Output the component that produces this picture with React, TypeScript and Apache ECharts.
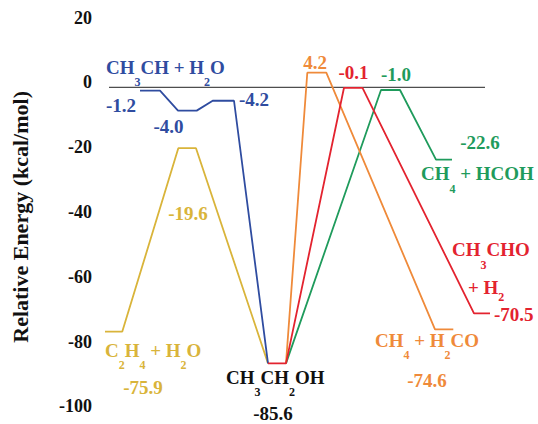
import React, { useEffect, useRef } from "react";
import * as echarts from "echarts";

// y axis (kcal/mol)
const yMin = -100;
const yMax = 20;
const yStep = 20;

// reaction-coordinate positions and energies
const zeroLine: [number, number][] = [[13, 0], [389, 0]];
const yellowPath: [number, number][] = [[9, -75.4], [26.3, -75.4], [82.3, -18.8], [100, -18.8], [172, -85.2]];
const bluePath: [number, number][] = [[44, -1.05], [64, -1.05], [82, -7.2], [100.7, -7.2], [116.7, -4.15], [138, -4.15], [172, -85.2]];
const greenPath: [number, number][] = [[190, -85.2], [285, -0.83], [304, -0.83], [340, -22.3], [356, -22.3]];
const orangePath: [number, number][] = [[190, -85.2], [211.3, 4.5], [230.3, 4.5], [339, -74.7], [357.3, -74.7]];
const redPath: [number, number][] = [[172, -85.2], [190, -85.2], [248, -0.15], [266.5, -0.15], [378, -69.75], [394, -69.75]];

// annotation texts ("_n" = subscript)
const labelTexts = [
  "CH_3CH + H_2O", "-1.2", "-4.0", "-4.2",
  "4.2", "-0.1", "-1.0", "-22.6", "CH_4 + HCOH",
  "-19.6", "C_2H_4 + H_2O", "-75.9",
  "CH_3CH_2OH", "-85.6",
  "CH_3CHO", "+ H_2", "-70.5",
  "CH_4 + H_2CO", "-74.6",
];

const BLUE = "#2f4ca0";
const YELLOW = "#d9b43a";
const ORANGE = "#ef8a3a";
const RED = "#e3232f";
const GREEN = "#1f9b5c";
const BLACK = "#111111";

// layout of the annotations: [x, main text centre y, align, colour, subscript drop]
const labelLayout: [number, number, "left" | "center", string, number][] = [
  [106, 67, "left", BLUE, 15],
  [106, 105, "left", BLUE, 15],
  [168.5, 126, "center", BLUE, 15],
  [239, 99, "left", BLUE, 15],
  [315, 62, "center", ORANGE, 15],
  [353.5, 72, "center", RED, 15],
  [396, 74, "center", GREEN, 15],
  [480, 142, "center", GREEN, 15],
  [421, 173, "left", GREEN, 16],
  [188, 213, "center", YELLOW, 15],
  [105, 350, "left", YELLOW, 15],
  [143, 387, "center", YELLOW, 15],
  [226, 377, "left", BLACK, 15],
  [273, 413, "center", BLACK, 15],
  [452, 249, "left", RED, 16],
  [468, 287, "left", RED, 10],
  [494, 314, "left", RED, 15],
  [375, 340, "left", ORANGE, 15],
  [427, 380, "center", ORANGE, 15],
];

const FONT = "'Liberation Serif', 'Times New Roman', serif";
const MAIN_SIZE = 19;
const SUB_SIZE = 12;

function segments(s: string): [string, boolean][] {
  const out: [string, boolean][] = [];
  const re = /_(\d)/g;
  let last = 0;
  let m: RegExpExecArray | null;
  while ((m = re.exec(s))) {
    if (m.index > last) out.push([s.slice(last, m.index), false]);
    out.push([m[1], true]);
    last = m.index + m[0].length;
  }
  if (last < s.length) out.push([s.slice(last), false]);
  return out;
}

export default function App() {
  const ref = useRef<HTMLDivElement>(null);
  useEffect(() => {
    if (!ref.current) return;
    const chart = echarts.init(ref.current, undefined, { renderer: "svg" });
    const ctx = document.createElement("canvas").getContext("2d")!;
    const measure = (t: string, size: number) => {
      ctx.font = `bold ${size}px ${FONT}`;
      return ctx.measureText(t).width;
    };
    const line = (data: [number, number][], color: string, width = 1.8) => ({
      type: "line",
      data,
      symbol: "none",
      silent: true,
      lineStyle: { color, width },
      z: 2,
    });
    const graphics: any[] = [];
    labelTexts.forEach((t, i) => {
      const [x, cy, align, color, drop] = labelLayout[i];
      const segs = segments(t);
      const widths = segs.map(([txt, sub]) => measure(txt, sub ? SUB_SIZE : MAIN_SIZE));
      const total = widths.reduce((a, b) => a + b, 0);
      let cx = align === "center" ? x - total / 2 : x;
      segs.forEach(([txt, sub], j) => {
        graphics.push({
          type: "text",
          x: cx,
          y: sub ? cy + drop : cy,
          z: 10,
          style: {
            text: txt,
            align: "left",
            verticalAlign: "middle",
            fill: color,
            fontFamily: FONT,
            fontWeight: "bold",
            fontSize: sub ? SUB_SIZE : MAIN_SIZE,
          },
        });
        cx += widths[j];
      });
    });
    chart.setOption({
      animation: false,
      grid: { left: 96, right: 0, top: 22.5, bottom: 12.7 },
      xAxis: { type: "value", min: 0, max: 442, show: false },
      yAxis: {
        type: "value",
        min: yMin,
        max: yMax,
        interval: yStep,
        axisLine: { show: false },
        axisTick: { show: false },
        splitLine: { show: false },
        axisLabel: {
          margin: 4,
          color: BLACK,
          fontFamily: FONT,
          fontWeight: "bold",
          fontSize: 18,
          verticalAlign: "bottom",
          lineHeight: 10,
        },
        name: "Relative Energy (kcal/mol)",
        nameLocation: "middle",
        nameGap: 65,
        nameTextStyle: { color: BLACK, fontFamily: FONT, fontWeight: "bold", fontSize: 22 },
      },
      series: [
        line(zeroLine, "#222222", 1),
        line(yellowPath, YELLOW),
        line(bluePath, BLUE),
        line(greenPath, GREEN),
        line(orangePath, ORANGE),
        line(redPath, RED),
      ],
      graphic: graphics,
    });
    return () => chart.dispose();
  }, []);
  return <div ref={ref} style={{ position: "fixed", left: 0, top: 0, width: 538, height: 424, background: "#fff" }} />;
}
